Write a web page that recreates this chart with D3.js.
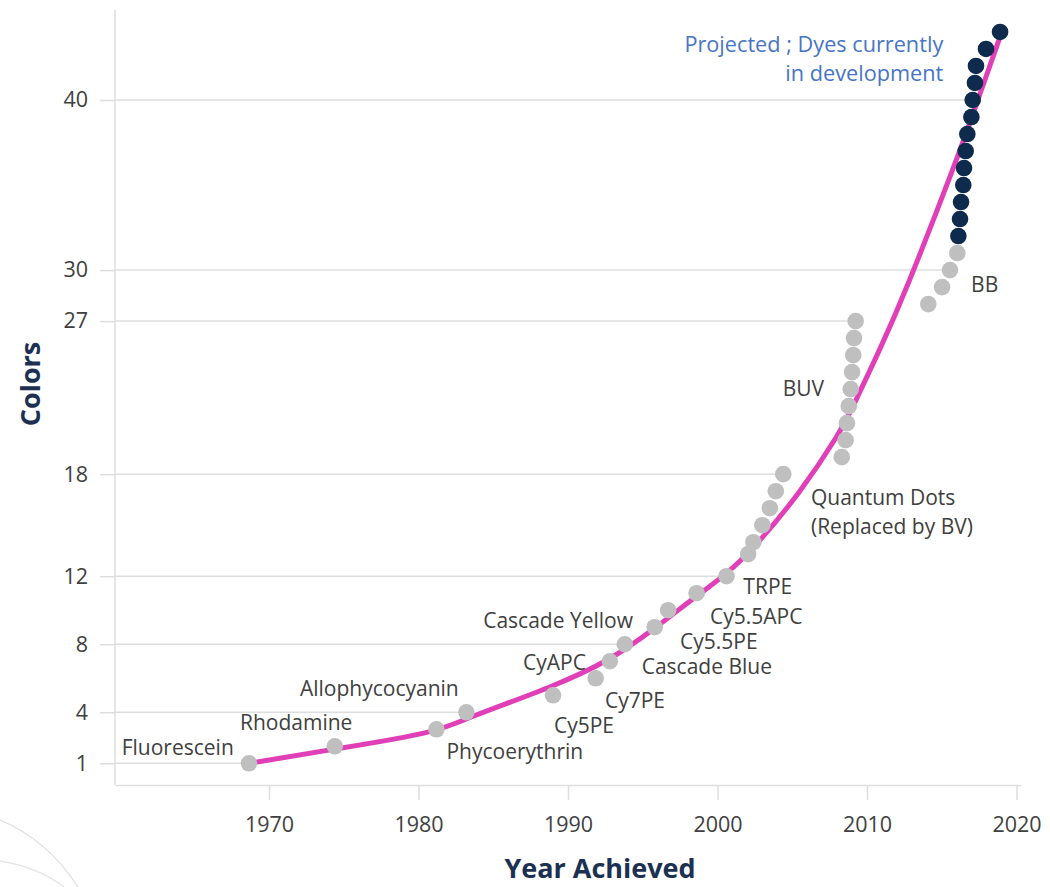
<!DOCTYPE html>
<html>
<head>
<meta charset="utf-8">
<script src="https://cdn.jsdelivr.net/npm/d3@7"></script>
<style>
  body { margin: 0; background: #fff; }
  svg { display: block; }
  text { font-family: "Open Sans", sans-serif; }
</style>
</head>
<body>
<svg id="chart" width="1050" height="887"></svg>
<script>
// Fluorochromes already achieved: year and cumulative number of colours
const dyeYears  = [1968.66, 1974.4, 1981.2, 1983.2, 1989.0, 1991.85, 1992.8, 1993.8, 1995.8, 1996.7,
                   1998.6, 2000.6, 2002.05, 2002.4, 2003.0, 2003.5, 2003.9, 2004.4,
                   2008.31, 2008.57, 2008.66, 2008.78, 2008.91, 2009.0, 2009.08, 2009.13, 2009.24,
                   2014.1, 2015.02, 2015.55, 2016.04];
const dyeColors = [1, 2, 3, 4, 5, 6, 7, 8, 9, 10,
                   11, 12, 13.3, 14, 15, 16, 17, 18,
                   19, 20, 21, 22, 23, 24, 25, 26, 27,
                   28, 29, 30, 31];

// Projected dyes still in development
const projYears  = [2016.11, 2016.22, 2016.29, 2016.44, 2016.49, 2016.6, 2016.71,
                    2016.98, 2017.07, 2017.22, 2017.29, 2017.96, 2018.9];
const projColors = [32, 33, 34, 35, 36, 37, 38, 39, 40, 41, 42, 43, 44];

// Trend line through the history
const trendYears  = [1968.66, 1974.41, 1981.24, 1983.18, 1988.99, 1992.81, 1995.69, 1998.49,
                     2000.57, 2002.51, 2005.52, 2008.19, 2009.06, 2010.94, 2012.41, 2016.02,
                     2017.42, 2018.9, 2019.1];
const trendColors = [1.0, 1.84, 2.81, 3.66, 5.49, 7.05, 8.84, 10.78,
                     12.08, 13.72, 16.9, 20.43, 21.96, 25.49, 28.37, 36.49,
                     40.02, 43.72, 44.22];

// Axis ticks
const xTicks = [1970, 1980, 1990, 2000, 2010, 2020];
const yTicks = [1, 4, 8, 12, 18, 27, 30, 40];

// Dye name annotations (left edge year, vertical centre in colours)
const labelNames  = ["Fluorescein", "Rhodamine", "Allophycocyanin", "Phycoerythrin", "Cascade Yellow",
                     "CyAPC", "Cy7PE", "Cy5PE", "Cascade Blue", "Cy5.5PE", "Cy5.5APC", "TRPE",
                     "Quantum Dots", "(Replaced by BV)", "BUV", "BB"];
const labelYears  = [1960.15, 1968.06, 1972.07, 1981.87, 1984.33,
                     1986.99, 1992.47, 1989.06, 1994.93, 1997.49, 1999.5, 2001.73,
                     2006.25, 2006.25, 2004.36, 2016.96];
const labelColors = [1.96, 3.43, 5.43, 1.72, 9.4,
                     6.93, 4.72, 3.25, 6.68, 8.16, 9.64, 11.4,
                     16.66, 14.92, 23.02, 29.14];

// Note about the projected dyes (right-aligned)
const noteLines  = ["Projected ; Dyes currently", "in development"];
const noteYear   = 2015.1;
const noteColors = [43.28, 41.6];

const svg = d3.select("#chart");

const x = d3.scaleLinear().domain([1959.7, 2020.3]).range([115, 1021]);
const y = d3.scaleLinear().domain([1, 40]).range([763.3, 100]);

const gridColor = "#dedede";
const textColor = "#404040";
const navy = "#1c3152";

// faint decorative arcs in the lower-left corner
svg.append("path")
  .attr("d", "M0,820 Q48,840 78,887")
  .attr("fill", "none").attr("stroke", "#e2e2e2").attr("stroke-width", 1.3);
svg.append("path")
  .attr("d", "M0,861 Q38,867 64,887")
  .attr("fill", "none").attr("stroke", "#e6e6e6").attr("stroke-width", 1.3);

// frame: left axis line
svg.append("line")
  .attr("x1", 115).attr("x2", 115).attr("y1", 10).attr("y2", 785)
  .attr("stroke", gridColor).attr("stroke-width", 1.5);

// x axis
const xAxis = svg.append("g")
  .attr("transform", "translate(0,785)")
  .call(d3.axisBottom(x).tickValues(xTicks).tickFormat(d3.format("d"))
        .tickSize(15).tickSizeOuter(0).tickPadding(17));
xAxis.select(".domain").attr("stroke", gridColor).attr("stroke-width", 1.5);
xAxis.selectAll(".tick line").attr("stroke", gridColor).attr("stroke-width", 1.5);
xAxis.selectAll(".tick text")
  .attr("font-family", "Open Sans").attr("font-size", 21.5).attr("fill", textColor);

// y axis labels with short outer ticks
const yAxis = svg.append("g")
  .attr("transform", "translate(115,0)")
  .call(d3.axisLeft(y).tickValues(yTicks).tickSize(15).tickPadding(12));
yAxis.select(".domain").remove();
yAxis.selectAll(".tick line").attr("stroke", gridColor).attr("stroke-width", 1.5);
yAxis.selectAll(".tick text")
  .attr("font-family", "Open Sans").attr("font-size", 21.5).attr("fill", textColor);

// leader lines from the axis to the dye that reached each tick value
const allYears = dyeYears.concat(projYears);
const allColors = dyeColors.concat(projColors);
svg.append("g").selectAll("line")
  .data(yTicks)
  .join("line")
  .attr("x1", 115)
  .attr("x2", d => x(allYears[allColors.indexOf(d)]))
  .attr("y1", d => y(d)).attr("y2", d => y(d))
  .attr("stroke", gridColor).attr("stroke-width", 1.5);

// trend curve
const trend = trendYears.map((t, i) => [t, trendColors[i]]);
svg.append("path")
  .datum(trend)
  .attr("fill", "none")
  .attr("stroke", "#e03fb8")
  .attr("stroke-width", 5)
  .attr("stroke-linecap", "round")
  .attr("d", d3.line().x(d => x(d[0])).y(d => y(d[1])).curve(d3.curveBasis));

// achieved dyes
svg.append("g").selectAll("circle")
  .data(dyeYears.map((t, i) => [t, dyeColors[i]]))
  .join("circle")
  .attr("cx", d => x(d[0])).attr("cy", d => y(d[1]))
  .attr("r", 8.3).attr("fill", "#bfbfbf");

// projected dyes
svg.append("g").selectAll("circle")
  .data(projYears.map((t, i) => [t, projColors[i]]))
  .join("circle")
  .attr("cx", d => x(d[0])).attr("cy", d => y(d[1]))
  .attr("r", 8.3).attr("fill", "#0e2a4c");

// dye names
svg.append("g").selectAll("text")
  .data(labelNames)
  .join("text")
  .attr("x", (d, i) => x(labelYears[i]))
  .attr("y", (d, i) => y(labelColors[i]))
  .attr("dy", "0.36em")
  .attr("font-size", 21)
  .attr("fill", textColor)
  .text(d => d);

// projected note
svg.append("g").selectAll("text")
  .data(noteLines)
  .join("text")
  .attr("x", x(noteYear))
  .attr("y", (d, i) => y(noteColors[i]))
  .attr("dy", "0.36em")
  .attr("text-anchor", "end")
  .attr("font-size", 21.7)
  .attr("fill", "#4775c6")
  .text(d => d);

// axis titles
svg.append("text")
  .attr("x", 600).attr("y", 878)
  .attr("text-anchor", "middle")
  .attr("font-weight", 700).attr("font-size", 27)
  .attr("fill", navy)
  .text("Year Achieved");

svg.append("text")
  .attr("transform", "translate(40,384) rotate(-90)")
  .attr("text-anchor", "middle")
  .attr("font-weight", 700).attr("font-size", 27)
  .attr("fill", navy)
  .text("Colors");
</script>
</body>
</html>
